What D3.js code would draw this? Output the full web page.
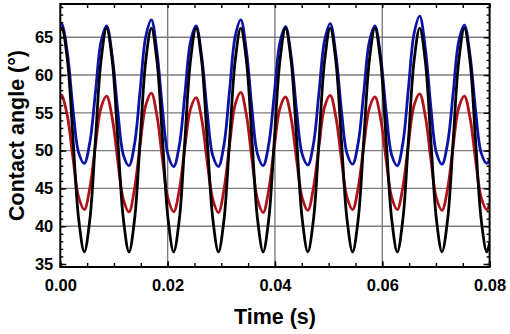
<!DOCTYPE html>
<html>
<head>
<meta charset="utf-8">
<script src="https://cdn.jsdelivr.net/npm/d3@7"></script>
<style>
body { margin: 0; background: #fff; }
text { font-family: "Liberation Sans", Arial, sans-serif; font-weight: bold; }
</style>
</head>
<body>
<svg id="svg1" width="510" height="334"></svg>
<script>
// time stamps (ms)
var timeMs = [0, 0.30, 1.34, 2.38, 3.43, 4.47, 5.51, 6.55, 7.59, 8.63, 9.68, 10.72, 11.76, 12.80, 13.84, 14.88,
	15.93, 16.97, 18.01, 19.05, 20.09, 21.13, 22.18, 23.22, 24.26, 25.30, 26.34, 27.38, 28.43, 29.47, 30.51,
	31.55, 32.59, 33.63, 34.68, 35.72, 36.76, 37.80, 38.84, 39.88, 40.93, 41.97, 43.01, 44.05, 45.09, 46.13,
	47.18, 48.22, 49.26, 50.30, 51.34, 52.38, 53.43, 54.47, 55.51, 56.55, 57.59, 58.63, 59.68, 60.72, 61.76,
	62.80, 63.84, 64.88, 65.93, 66.97, 68.01, 69.05, 70.09, 71.13, 72.18, 73.22, 74.26, 75.30, 76.34, 77.38,
	78.43, 79.47, 80.00];

var blueAngle = [66.7,
	66.7, 62.8, 55.4, 49.7, 48.3, 51.1, 57.7, 64.4,
	66.5, 62.5, 55.2, 49.4, 48.0, 50.9, 58.0, 65.1,
	67.3, 63.1, 55.4, 49.4, 47.9, 50.7, 57.5, 64.4,
	66.5, 62.5, 55.1, 49.3, 47.9, 50.8, 58.0, 65.1,
	67.3, 63.2, 55.5, 49.5, 48.0, 50.8, 57.5, 64.3,
	66.4, 62.5, 55.2, 49.5, 48.1, 50.9, 57.8, 64.6,
	66.8, 62.8, 55.4, 49.6, 48.2, 51.0, 57.7, 64.4,
	66.5, 62.5, 55.2, 49.4, 48.0, 51.0, 58.3, 65.5,
	67.8, 63.6, 55.8, 49.7, 48.2, 51.0, 57.7, 64.5,
	66.6, 62.7, 55.4, 49.7, 48.3,
	48.8];

var redAngle = [57.4,
	57.3, 54.5, 48.9, 43.8, 42.2, 45.1, 50.7, 55.7,
	57.2, 54.3, 48.6, 43.5, 41.9, 45.0, 50.8, 56.0,
	57.6, 54.6, 48.8, 43.6, 41.9, 44.8, 50.5, 55.5,
	57.0, 54.2, 48.5, 43.5, 41.8, 44.9, 50.8, 56.1,
	57.7, 54.7, 48.8, 43.5, 41.8, 44.8, 50.5, 55.6,
	57.1, 54.3, 48.7, 43.7, 42.1, 45.1, 50.7, 55.8,
	57.3, 54.5, 48.9, 43.8, 42.2, 45.1, 50.6, 55.6,
	57.1, 54.3, 48.8, 43.8, 42.2, 45.2, 50.9, 56.0,
	57.5, 54.6, 48.9, 43.7, 42.1, 45.0, 50.7, 55.7,
	57.2, 54.4, 48.8, 43.8, 42.2,
	43.0];

var blackAngle = [65.9,
	66.2, 61.9, 51.4, 40.9, 36.6, 40.9, 51.4, 61.9,
	66.2, 61.9, 51.4, 40.9, 36.6, 40.9, 51.4, 61.9,
	66.2, 61.9, 51.4, 40.9, 36.6, 40.9, 51.4, 61.9,
	66.2, 61.9, 51.4, 40.9, 36.6, 40.9, 51.4, 61.9,
	66.2, 61.9, 51.4, 40.9, 36.6, 40.9, 51.4, 61.9,
	66.2, 61.9, 51.4, 40.9, 36.6, 40.9, 51.4, 61.9,
	66.2, 61.9, 51.4, 40.9, 36.6, 40.9, 51.4, 61.9,
	66.2, 61.9, 51.4, 40.9, 36.6, 40.9, 51.4, 61.9,
	66.2, 61.9, 51.4, 40.9, 36.6, 40.9, 51.4, 61.9,
	66.2, 61.9, 51.4, 40.9, 36.6,
	37.8];

var xTicks = [0, 0.02, 0.04, 0.06, 0.08];
var xTickLabels = ['0.00', '0.02', '0.04', '0.06', '0.08'];
var yTicks = [35, 40, 45, 50, 55, 60, 65];
var xTitle = 'Time (s)';
var yTitle = 'Contact angle (°)';

var svg1 = d3.select('#svg1');
var padL = 60.3, padR = 489.6, padT = 4, padB = 267;

var x = d3.scaleLinear().domain([0, 0.08]).range([padL, padR]);
var y = d3.scaleLinear().domain([34.6, 69.4]).range([padB, padT]);

// grid
svg1.append('g').selectAll('line').data(yTicks.slice(1)).enter().append('line')
	.attr('x1', padL).attr('x2', padR).attr('y1', d => y(d)).attr('y2', d => y(d))
	.attr('stroke', '#7c7c7c').attr('stroke-width', 1.4);
svg1.append('g').selectAll('line').data(xTicks.slice(1, -1)).enter().append('line')
	.attr('y1', padT).attr('y2', padB).attr('x1', d => x(d)).attr('x2', d => x(d))
	.attr('stroke', '#7c7c7c').attr('stroke-width', 1.4);

svg1.append('clipPath').attr('id', 'clip').append('rect')
	.attr('x', padL).attr('y', padT).attr('width', padR - padL).attr('height', padB - padT);

var line = d3.line()
	.x((d, i) => x(timeMs[i] / 1000))
	.y(d => y(d))
	.curve(d3.curveCatmullRom);

var series = [[blueAngle, '#0c12a6'], [redAngle, '#b0121a'], [blackAngle, '#000']];
svg1.append('g').attr('clip-path', 'url(#clip)')
	.selectAll('path').data(series).enter().append('path')
	.attr('d', d => line(d[0]))
	.attr('fill', 'none').attr('stroke', d => d[1]).attr('stroke-width', 2.8)
	.attr('stroke-linejoin', 'round');

// axes, ticks pointing inward
var minorX = d3.range(0, 0.0801, 0.005);
var minorY = d3.range(35, 70, 1);

function tidy(g) {
	g.select('.domain').remove();
	g.attr('font-family', null).attr('font-size', 16.5);
	g.selectAll('.tick line').attr('stroke', '#000').attr('stroke-width', 1.4);
	g.selectAll('text').attr('fill', '#000');
}

svg1.append('g').attr('transform', 'translate(0,' + padB + ')')
	.call(d3.axisBottom(x).tickValues(minorX).tickSize(-4).tickFormat('')).call(tidy);
svg1.append('g').attr('transform', 'translate(0,' + padT + ')')
	.call(d3.axisTop(x).tickValues(minorX).tickSize(-4).tickFormat('')).call(tidy);
svg1.append('g').attr('transform', 'translate(0,' + padB + ')')
	.call(d3.axisBottom(x).tickValues(xTicks).tickSize(-6).tickPadding(12)
		.tickFormat((d, i) => xTickLabels[i])).call(tidy);
svg1.append('g').attr('transform', 'translate(' + padL + ',0)')
	.call(d3.axisLeft(y).tickValues(minorY).tickSize(-3).tickFormat('')).call(tidy);
svg1.append('g').attr('transform', 'translate(' + padR + ',0)')
	.call(d3.axisRight(y).tickValues(minorY).tickSize(-3).tickFormat('')).call(tidy);
svg1.append('g').attr('transform', 'translate(' + padL + ',0)')
	.call(d3.axisLeft(y).tickValues(yTicks).tickSize(-6).tickPadding(7)).call(tidy);
svg1.append('g').attr('transform', 'translate(' + padR + ',0)')
	.call(d3.axisRight(y).tickValues(yTicks).tickSize(-6).tickFormat('')).call(tidy);

svg1.append('rect').attr('x', padL).attr('y', padT).attr('width', padR - padL).attr('height', padB - padT)
	.attr('fill', 'none').attr('stroke', '#000').attr('stroke-width', 2);

svg1.append('text').attr('x', (padL + padR) / 2).attr('y', 324)
	.attr('text-anchor', 'middle').attr('font-size', 21.5).text(xTitle);
svg1.append('text').attr('transform', 'translate(24,' + ((padT + padB) / 2) + ') rotate(-90)')
	.attr('text-anchor', 'middle').attr('font-size', 21.5).text(yTitle);
</script>
</body>
</html>
